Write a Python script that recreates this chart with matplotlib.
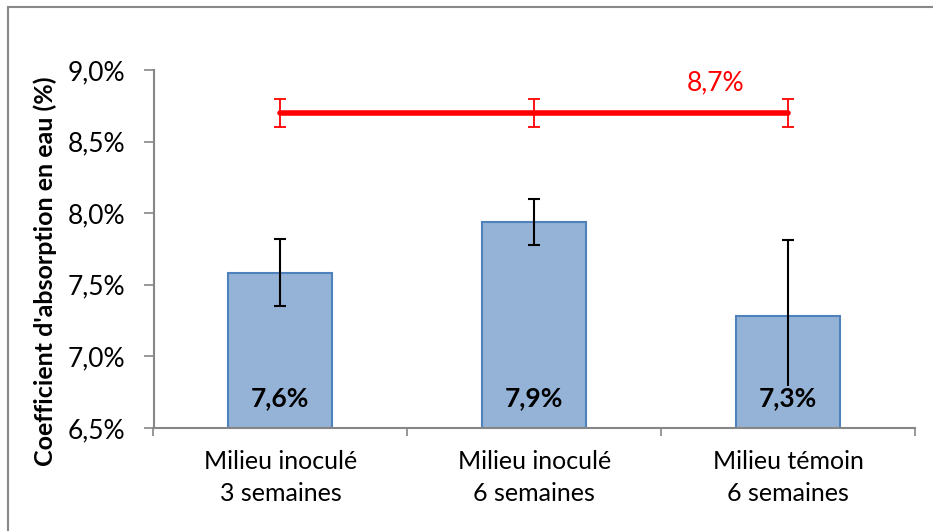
import matplotlib
matplotlib.use("Agg")
import matplotlib.pyplot as plt
from matplotlib.patches import Rectangle
from matplotlib.ticker import FixedLocator, FuncFormatter

plt.rcParams['font.family'] = ['Lato', 'DejaVu Sans']

categories = ["Milieu inoculé\n3 semaines", "Milieu inoculé\n6 semaines", "Milieu témoin\n6 semaines"]
values = [7.585, 7.94, 7.28]
errors = [0.235, 0.16, 0.535]
bar_labels = ["7,6%", "7,9%", "7,3%"]
ref_values = [8.7, 8.7, 8.7]
ref_errors = [0.1, 0.1, 0.1]
ref_label = "8,7%"
yticks = [6.5, 7.0, 7.5, 8.0, 8.5, 9.0]

W, H = 933, 531
fig = plt.figure(figsize=(W / 100, H / 100), dpi=100)
ax = fig.add_axes([153.5 / W, (H - 428) / H, (915 - 153.5) / W, (428 - 70) / H])

x = list(range(len(categories)))
bar_face = "#95B3D7"
bar_edge = "#4F81BD"
ax.bar(x, values, width=0.41, bottom=0, color=bar_face, edgecolor=bar_edge, linewidth=1.5, zorder=2)
ax.errorbar(x, values, yerr=errors, fmt='none', ecolor='black', elinewidth=1.5, capsize=4.3, capthick=1.5, zorder=3)

for xi, v, lab in zip(x, values, bar_labels):
    ax.text(xi, 6.706, lab, ha='center', va='center', fontsize=19, fontweight='bold', color='black', zorder=5,
            bbox=dict(facecolor=bar_face, edgecolor='none', pad=0.5))

# reference line
ax.errorbar(x, ref_values, yerr=ref_errors, fmt='none', ecolor='#FF0000', elinewidth=1.3, capsize=4.3, capthick=1.3, zorder=4)
ax.plot(x, ref_values, color='#FF0000', linewidth=4, solid_capstyle='round', zorder=4)
ax.text(1.716, 8.909, ref_label, ha='center', va='center', fontsize=19, color='#FF0000')

ax.set_xlim(-0.5, 2.5)
ax.set_ylim(6.5, 9.0)
ax.set_yticks(yticks)
ax.yaxis.set_major_formatter(FuncFormatter(lambda v, p: f"{v:.1f}".replace('.', ',') + "%"))
ax.set_xticks(x)
ax.set_xticklabels(categories, fontsize=18, linespacing=1.45)
ax.xaxis.set_minor_locator(FixedLocator([-0.5, 0.5, 1.5, 2.5]))
ax.tick_params(axis='x', which='major', length=0, pad=16)
ax.tick_params(axis='x', which='minor', length=6, width=1.2, color='#868686', direction='out')
ax.tick_params(axis='y', which='major', length=7, width=1.2, color='#868686', labelsize=19, pad=13.5)

for s in ['top', 'right']:
    ax.spines[s].set_visible(False)
for s in ['left', 'bottom']:
    ax.spines[s].set_color('#868686')
    ax.spines[s].set_linewidth(1.5)

fig.text(45 / W, 1 - 271 / H, "Coefficient d'absorption en eau (%)", rotation=90, ha='center', va='center',
         fontsize=18, fontweight='bold')

# outer chart frame (cropped at right/bottom)
fig.patches.append(Rectangle((8.3 / W, -0.1), 1.2, 1 - 7.3 / H + 0.1, transform=fig.transFigure,
                             fill=False, edgecolor='#888888', linewidth=1.5))

fig.savefig("out.png", dpi=100)
